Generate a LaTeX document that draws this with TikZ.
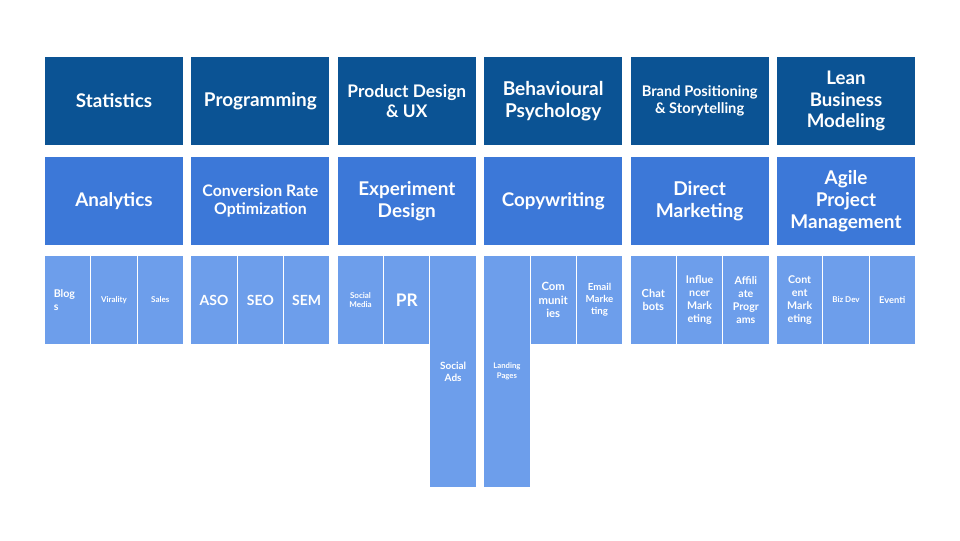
\documentclass[tikz,border=0pt]{standalone}
\usepackage{fontspec}
\setmainfont{Lato}
\definecolor{cdark}{HTML}{0B5394}
\definecolor{cmid}{HTML}{3C78D8}
\definecolor{clight}{HTML}{6D9EEB}
\tikzset{
  box/.style={inner sep=0pt, text=white, align=center, font=\bfseries},
  big/.style={box, minimum width=103.5pt, minimum height=66pt},
  topbox/.style={big, fill=cdark},
  midbox/.style={big, fill=cmid},
  subbox/.style={box, fill=clight, minimum width=34pt, minimum height=66pt},
  tallbox/.style={box, fill=clight, minimum width=34pt, minimum height=173.25pt},
  fs/.style={font=\bfseries\fontsize{#1}{1.16\dimexpr #1pt\relax}\selectfont},
  fsb/.style={font=\bfseries\fontsize{#1}{1.22\dimexpr #1pt\relax}\selectfont},
}
\begin{document}
\begin{tikzpicture}[x=0.75pt,y=-0.75pt]
\useasboundingbox (0,0) rectangle (960,540);
% row 1
\node[topbox, fs=14.1] (t1) at (114,101) {Statistics};
\node[topbox, fs=14.2] (t2) at (260.4,101) {Programming};
\node[topbox, fs=13] (t3) at (406.8,101) {Product Design\\\& UX};
\node[topbox, fs=14.3] (t4) at (553.2,101) {Behavioural\\Psychology};
\node[topbox, fs=11] (t5) at (699.6,101) {Brand Positioning\\\& Storytelling};
\node[topbox, fs=14] (t6) at (846,101) {Lean\\Business\\Modeling};
% row 2
\node[midbox, fs=14.1] (m1) at (114,201) {Analytics};
\node[midbox, fs=11.9] (m2) at (260.4,201) {Conversion Rate\\Optimization};
\node[midbox, fs=14.2] (m3) at (406.8,201) {Experiment\\Design};
\node[midbox, fs=14.1] (m4) at (553.2,201) {Copywriting};
\node[midbox, fs=14.3] (m5) at (699.6,201) {Direct\\Marketing};
\node[midbox, fs=14.2] (m6) at (846,201) {Agile\\Project\\Management};
% row 3, column 1
\node[subbox] (s11) at (67.7,300) {};
\node[box, fsb=8, align=left, anchor=west] (s11t) at (53.5,300.5) {Blog\\s};
\node[subbox, fs=6] (s12) at (114,300) {Virality};
\node[subbox, fs=6] (s13) at (160.3,300) {Sales};
% column 2
\node[subbox, fs=10.5] (s21) at (214.1,300) {ASO};
\node[subbox, fs=10.5] (s22) at (260.4,300) {SEO};
\node[subbox, fs=10.5] (s23) at (306.7,300) {SEM};
% column 3
\node[subbox, fsb=6] (s31) at (360.5,300) {Social\\Media};
\node[subbox, fs=13] (s32) at (406.8,300) {PR};
\node[tallbox, fsb=7.5] (s33) at (453.1,371.5) {Social\\Ads};
% column 4
\node[tallbox, fsb=5.8] (s41) at (506.9,371.5) {Landing\\Pages};
\node[subbox, fsb=8.5] (s42) at (553.2,300) {Com\\munit\\ies};
\node[subbox, fsb=7.3] (s43) at (599.5,300) {Email\\Marke\\ting};
% column 5
\node[subbox, fsb=8.3] (s51) at (653.3,300) {Chat\\bots};
\node[subbox, fsb=8] (s52) at (699.6,300) {Influe\\ncer\\Mark\\eting};
\node[subbox, fsb=8] (s53) at (745.9,300) {Affili\\ate\\Progr\\ams};
% column 6
\node[subbox, fsb=8] (s61) at (799.7,300) {Cont\\ent\\Mark\\eting};
\node[subbox, fs=6] (s62) at (846,300) {Biz Dev};
\node[subbox, fs=7] (s63) at (892.3,300) {Eventi};
\end{tikzpicture}
\end{document}
